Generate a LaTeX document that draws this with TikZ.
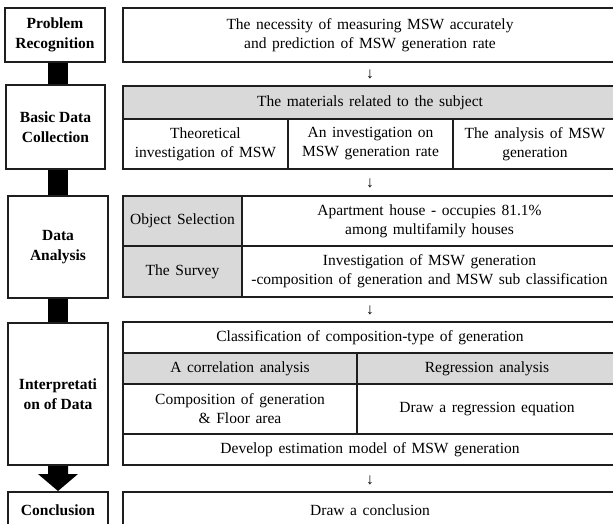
\documentclass[tikz,border=0pt]{standalone}
\usepackage{fontspec}
\setmainfont{Liberation Serif}
\usetikzlibrary{calc}
\definecolor{cellgray}{HTML}{D9D9D9}
\definecolor{linecol}{HTML}{1E1E1E}
\newcommand\mywidespaces{\spaceskip=0.36em plus 0.1em minus 0.05em\relax}
\begin{document}
\begin{tikzpicture}[x=1pt,y=-1pt,
  cell/.style={draw=linecol, line width=1.5pt, align=center, inner sep=0pt, font=\fontsize{15.5}{19}\selectfont, execute at begin node=\mywidespaces},
  gcell/.style={cell, fill=cellgray},
  lbox/.style={draw=linecol, line width=2pt, align=center, inner sep=0pt, font=\fontsize{15.5}{20}\selectfont\bfseries},
  downmark/.style={inner sep=0pt, font=\fontsize{15.5}{19}\selectfont}]
\useasboundingbox (0,0) rectangle (613,524);
\clip (0,0) rectangle (613,524);
\coordinate (axis) at (58,0);
% left stage boxes
\node[lbox, minimum width=100, minimum height=54] (pr) at (55,35) {Problem\\Recognition};
\node[lbox, minimum width=99, minimum height=84] (bdc) at (55.5,127) {Basic Data\\Collection};
\node[lbox, minimum width=100, minimum height=102] (da) at (58,247) {Data\\Analysis};
\node[lbox, minimum width=100, minimum height=142] (interp) at (58,394) {Interpretati\\on of Data};
\node[lbox, minimum width=100, minimum height=36] (concl) at (58,510) {Conclusion};
% bars between stages
\fill[black] ($(pr.south -| axis)+(-10,0)$) rectangle ($(bdc.north -| axis)+(10,0)$);
\fill[black] ($(bdc.south -| axis)+(-10,0)$) rectangle ($(da.north -| axis)+(10,0)$);
\fill[black] ($(da.south -| axis)+(-10,0)$) rectangle ($(interp.north -| axis)+(10,0)$);
\coordinate (a1) at (interp.south -| axis);
\coordinate (a2) at (concl.north -| axis);
\fill[black] ($(a1)+(-10,0)$) -- ($(a1)+(-10,8)$) -- ($(a1)+(-20,8)$) -- (a2) -- ($(a1)+(20,8)$) -- ($(a1)+(10,8)$) -- ($(a1)+(10,0)$) -- cycle;
% right: problem recognition
\node[cell, minimum width=494, minimum height=54] (r1) at (370,35) {The necessity of measuring MSW accurately\\and prediction of MSW generation rate};
\node[downmark] (d1) at (370,74) {↓};
% basic data collection
\node[gcell, minimum width=494, minimum height=33] (r2h) at (370,102.5) {The materials related to the subject};
\node[cell, minimum width=165, minimum height=50] (r2a) at (205.5,144) {Theoretical\\investigation of MSW};
\node[cell, minimum width=165, minimum height=50] (r2b) at (370.5,144) {An investigation on\\MSW generation rate};
\node[cell, minimum width=164, minimum height=50] (r2c) at (535,144) {The analysis of MSW\\generation};
\node[downmark] (d2) at (370,183) {↓};
% data analysis
\node[gcell, minimum width=119, minimum height=50] (r3a) at (182.5,221) {Object Selection};
\node[cell, minimum width=375, minimum height=50] (r3b) at (429.5,221) {Apartment house - occupies 81.1\%\\among multifamily houses};
\node[gcell, minimum width=119, minimum height=51] (r3c) at (182.5,271.5) {The Survey};
\node[cell, minimum width=375, minimum height=51] (r3d) at (429.5,271.5) {Investigation of MSW generation\\-composition of generation and MSW sub classification};
\node[downmark] (d3) at (370,310) {↓};
% interpretation
\node[cell, minimum width=494, minimum height=31] (r4a) at (370,337.5) {Classification of composition-type of generation};
\node[gcell, minimum width=234, minimum height=31] (r4b) at (240,368.5) {A correlation analysis};
\node[gcell, minimum width=260, minimum height=31] (r4c) at (487,368.5) {Regression analysis};
\node[cell, minimum width=234, minimum height=50] (r4d) at (240,409) {Composition of generation\\\& Floor area};
\node[cell, minimum width=260, minimum height=50] (r4e) at (487,409) {Draw a regression equation};
\node[cell, minimum width=494, minimum height=31] (r4f) at (370,449.5) {Develop estimation model of MSW generation};
\node[downmark] (d4) at (370,480) {↓};
% conclusion
\node[cell, minimum width=494, minimum height=36] (r5) at (370,510) {Draw a conclusion};
\end{tikzpicture}
\end{document}
